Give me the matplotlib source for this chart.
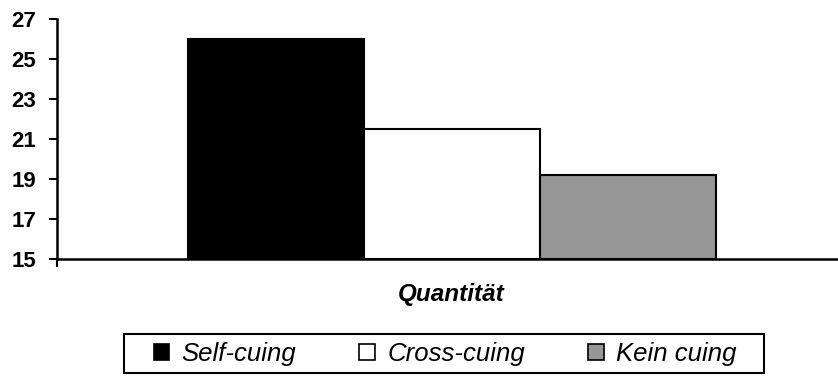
import matplotlib.pyplot as plt
from matplotlib.patches import Patch, Rectangle

plt.rcParams['font.family'] = ['Liberation Sans', 'DejaVu Sans']

# Daten
gruppen = ["Self-cuing", "Cross-cuing", "Kein cuing"]
werte = [26.0, 21.5, 19.2]
farben = ["#000000", "#ffffff", "#969696"]
y_ticks = [15, 17, 19, 21, 23, 25, 27]

fig = plt.figure(figsize=(8.38, 3.76), dpi=100)
ax = fig.add_axes([57 / 838, 1 - 259 / 376, 1 - 57 / 838, 240 / 376])

pos = [0, 1, 2]
ax.bar(pos, [w - 15 for w in werte], bottom=15, width=1.0, color=farben,
       edgecolor="black", linewidth=1.5, zorder=2)

left, right = -1.244, 3.193
ax.set_xlim(left, right)
ax.set_ylim(15, 27)
ax.set_yticks(y_ticks)
ax.set_yticklabels([str(t) for t in y_ticks], fontsize=16, fontweight="bold")
ax.set_xticks([left])
ax.set_xticklabels([""])
ax.tick_params(axis="both", direction="out", length=6, width=1.5, pad=9)

for s in ["top", "right"]:
    ax.spines[s].set_visible(False)
for s in ["left", "bottom"]:
    ax.spines[s].set_linewidth(1.8)

fig.text(451 / 838, 1 - 294 / 376, "Quantität", ha="center", va="center",
         fontsize=17.5, fontweight="bold", fontstyle="italic")

# Legendenrahmen
fig.add_artist(Rectangle((124 / 838, 1 - 373 / 376), 640 / 838, 39 / 376,
                         transform=fig.transFigure, fill=False,
                         edgecolor="black", linewidth=1.5))

handles = [Patch(facecolor=c, edgecolor="black", linewidth=1.2) for c in farben]
leg = fig.legend(handles, gruppen, loc="center", bbox_to_anchor=(445 / 838, 1 - 354 / 376),
                 ncol=3, frameon=False, prop={"size": 18.5, "style": "italic"},
                 handlelength=0.62, handleheight=0.62, handletextpad=0.47,
                 columnspacing=2.45, borderpad=0.2)

fig.savefig("out.png", dpi=100)
